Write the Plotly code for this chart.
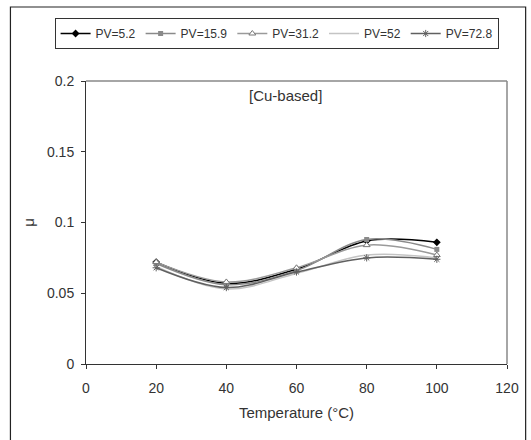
import plotly.graph_objects as go

temperature = [20, 40, 60, 80, 100]
series_names = ["PV=5.2", "PV=15.9", "PV=31.2", "PV=52", "PV=72.8"]
pv_5_2 = [0.072, 0.057, 0.067, 0.087, 0.086]
pv_15_9 = [0.071, 0.056, 0.066, 0.088, 0.081]
pv_31_2 = [0.072, 0.058, 0.068, 0.084, 0.077]
pv_52 = [0.069, 0.053, 0.064, 0.077, 0.075]
pv_72_8 = [0.068, 0.054, 0.065, 0.075, 0.074]
x_ticks = [0, 20, 40, 60, 80, 100, 120]
y_ticks = [0, 0.05, 0.1, 0.15, 0.2]
y_tick_labels = ["0", "0.05", "0.1", "0.15", "0.2"]

styles = [
    dict(line=dict(color="#000000", width=1.5), marker=dict(symbol="diamond", size=6, color="#000000")),
    dict(line=dict(color="#8a8a8a", width=1.5), marker=dict(symbol="square", size=5, color="#8a8a8a")),
    dict(line=dict(color="#9a9a9a", width=1.5), marker=dict(symbol="triangle-up", size=6, color="white", line=dict(color="#777777", width=1))),
    dict(line=dict(color="#c4c4c4", width=1.5), marker=dict(symbol="line-ew", size=1, color="#c4c4c4")),
    dict(line=dict(color="#606060", width=1.5), marker=dict(symbol="asterisk-open", size=6, line=dict(color="#404040", width=1))),
]
data = [pv_5_2, pv_15_9, pv_31_2, pv_52, pv_72_8]

fig = go.Figure()
for name, vals, st in zip(series_names, data, styles):
    fig.add_trace(go.Scatter(x=temperature, y=vals, name=name, mode="lines+markers",
                             line_shape="spline", line=st["line"], marker=st["marker"]))

W, H = 531, 440
L, R, T, B = 86, 515, 81, 364
pw, ph = R - L, B - T

def px(x):
    return (x - L) / pw

def py(y):
    return (B - y) / ph

fig.update_layout(
    width=W, height=H,
    margin=dict(l=L, r=W - R, t=T, b=H - B),
    plot_bgcolor="white", paper_bgcolor="white",
    font=dict(family="Liberation Sans, Arial, sans-serif", size=14, color="#333333"),
    showlegend=True,
    legend=dict(orientation="h", x=px(54), y=py(18), xanchor="left", yanchor="top",
                bordercolor="#333333", borderwidth=1, font=dict(size=12, color="#333333"),
                itemwidth=30, tracegroupgap=0, bgcolor="white"),
    xaxis=dict(range=[0, 120], tickvals=x_ticks, showgrid=False, zeroline=False,
               showline=True, linecolor="#333333", linewidth=1, ticks="outside",
               ticklen=4, tickcolor="#333333", tickfont=dict(size=14),
               ticklabelstandoff=7,
               title=dict(text="Temperature (°C)", standoff=12, font=dict(size=15))),
    yaxis=dict(range=[0, 0.2], tickvals=y_ticks, ticktext=y_tick_labels, showgrid=False,
               zeroline=False, showline=True, linecolor="#333333", linewidth=1,
               ticks="outside", ticklen=4, tickcolor="#333333", tickfont=dict(size=14),
               ticklabelstandoff=4,
               title=dict(text="μ", standoff=8, font=dict(size=15))),
    shapes=[
        dict(type="rect", xref="paper", yref="paper", x0=px(9), x1=px(534), y0=py(446), y1=py(7),
             line=dict(color="#222222", width=1.2), layer="below"),
        dict(type="line", xref="paper", yref="paper", x0=0, x1=1, y0=1, y1=1,
             line=dict(color="#888888", width=1.5)),
        dict(type="line", xref="paper", yref="paper", x0=1, x1=1, y0=0, y1=1,
             line=dict(color="#888888", width=1.5)),
    ],
    annotations=[
        dict(text="[Cu-based]", xref="x", yref="y", x=57, y=0.1895, showarrow=False,
             font=dict(size=15))
    ],
)

fig.write_html("out.html", config={"displayModeBar": False},
               post_script="document.body.style.margin='0';document.body.style.overflow='hidden';")
